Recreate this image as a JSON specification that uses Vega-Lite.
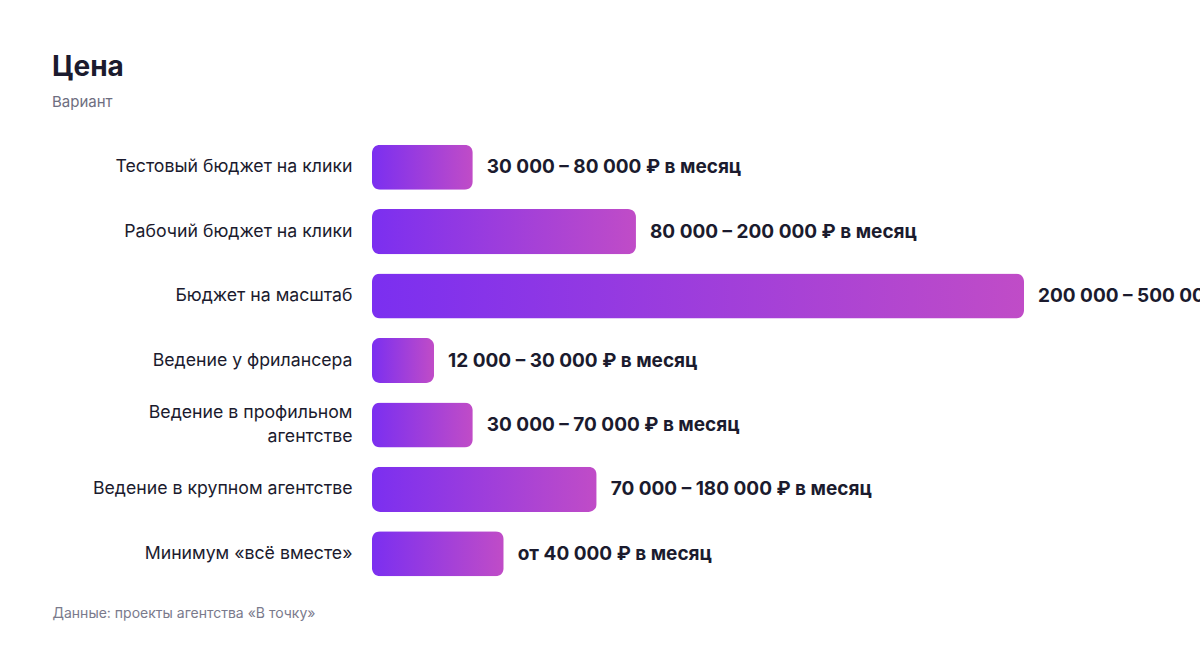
{
  "$schema": "https://vega.github.io/schema/vega-lite/v6.json",
  "autosize": {"type": "none"},
  "width": 652,
  "height": 451,
  "padding": {"left": 372, "top": 135, "right": 176, "bottom": 62},
  "background": "#ffffff",
  "title": {
    "text": "Цена",
    "subtitle": "Вариант",
    "anchor": "start",
    "frame": "group",
    "dx": -320,
    "offset": 25,
    "font": "Inter",
    "fontSize": 28,
    "fontWeight": "bold",
    "color": "#1b1b2e",
    "subtitleFont": "Inter",
    "subtitleFontSize": 15,
    "subtitleColor": "#6e6e80",
    "subtitlePadding": 13
  },
  "data": {
    "values": [
      {"variant": "Тестовый бюджет на клики", "value": 54.1, "label": "30 000 – 80 000 ₽ в месяц"},
      {"variant": "Рабочий бюджет на клики", "value": 141.7, "label": "80 000 – 200 000 ₽ в месяц"},
      {"variant": "Бюджет на масштаб", "value": 350, "label": "200 000 – 500 000 ₽ в месяц"},
      {"variant": "Ведение у фрилансера", "value": 33.3, "label": "12 000 – 30 000 ₽ в месяц"},
      {"variant": "Ведение в профильном агентстве", "value": 54.1, "label": "30 000 – 70 000 ₽ в месяц"},
      {"variant": "Ведение в крупном агентстве", "value": 120.6, "label": "70 000 – 180 000 ₽ в месяц"},
      {"variant": "Минимум «всё вместе»", "value": 70.7, "label": "от 40 000 ₽ в месяц"}
    ]
  },
  "encoding": {
    "y": {
      "field": "variant",
      "type": "nominal",
      "sort": null,
      "scale": {"paddingInner": 0.3, "paddingOuter": 0.15},
      "axis": {
        "title": null,
        "domain": false,
        "ticks": false,
        "labelPadding": 20,
        "labelFont": "Inter",
        "labelFontSize": 17.7,
        "labelColor": "#1b1b2e",
        "labelLimit": 340,
        "labelLineHeight": 24,
        "labelOffset": {"condition": {"test": "datum.value == 'Ведение в профильном агентстве'", "value": -12}, "value": 0},
        "labelExpr": "datum.label == 'Ведение в профильном агентстве' ? ['Ведение в профильном', 'агентстве'] : datum.label"
      }
    },
    "x": {
      "field": "value",
      "type": "quantitative",
      "scale": {"domain": [0, 350], "nice": false},
      "axis": {
        "title": "Данные: проекты агентства «В точку»",
        "domain": false,
        "ticks": false,
        "labels": false,
        "grid": false,
        "titleAnchor": "start",
        "titleAlign": "left",
        "titleX": -320,
        "titleY": 31,
        "titleBaseline": "alphabetic",
        "titleFont": "Inter",
        "titleFontSize": 14,
        "titleFontWeight": "normal",
        "titleColor": "#7a7a8c"
      }
    }
  },
  "layer": [
    {
      "mark": {
        "type": "bar",
        "cornerRadius": 8,
        "color": {
          "gradient": "linear",
          "x1": 0, "y1": 0, "x2": 1, "y2": 0,
          "stops": [
            {"offset": 0, "color": "#7B2FF0"},
            {"offset": 1, "color": "#C04CC7"}
          ]
        }
      }
    },
    {
      "mark": {
        "type": "text",
        "align": "left",
        "baseline": "middle",
        "dx": 14,
        "font": "Inter",
        "fontSize": 19,
        "fontWeight": "bold",
        "color": "#1b1b2e"
      },
      "encoding": {"text": {"field": "label"}}
    }
  ],
  "config": {"view": {"stroke": null}}
}
